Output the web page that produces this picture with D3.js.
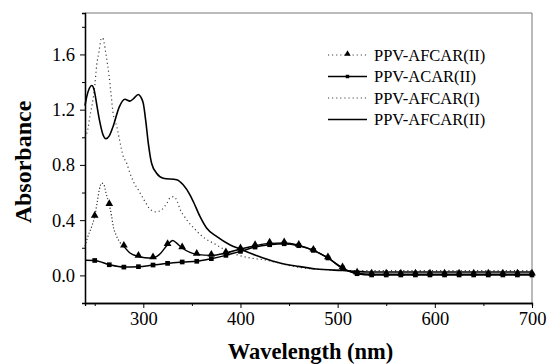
<!DOCTYPE html>
<html>
<head>
<meta charset="utf-8">
<script src="https://cdn.jsdelivr.net/npm/d3@7/dist/d3.min.js"></script>
<style>
  body { margin: 0; background: #fff; }
  text { font-family: "Liberation Serif", "Times New Roman", serif; fill: #000; }
</style>
</head>
<body>
<div id="chart"></div>
<script>
// series: [wavelength (nm), absorbance]
var afcar1 = [[240,1.0],[243,1.06],[245,1.15],[248.6,1.29],[250.3,1.39],[252,1.52],[254.4,1.62],[256.5,1.71],
  [258,1.72],[259.5,1.69],[261.6,1.6],[264.7,1.45],[266.7,1.32],[269,1.17],[272.6,1.08],[275.3,0.99],[279,0.87],
  [283,0.81],[286.3,0.74],[289.7,0.68],[294.8,0.62],[301.7,0.535],[306.8,0.48],[313,0.46],[318.8,0.475],[324,0.52],
  [328,0.565],[331.5,0.57],[335,0.535],[338,0.475],[342,0.43],[346,0.39],[352,0.343],[358,0.3],[364,0.265],
  [372,0.234],[384,0.186],[396,0.15],[410,0.126],[423,0.114],[437,0.094],[451,0.07],[470,0.05],[500,0.038],
  [520,0.035],[600,0.035],[700,0.035]];

var afcar2 = [[240,1.23],[242,1.3],[244.5,1.355],[247,1.375],[249.5,1.34],[252,1.24],[255,1.12],[258,1.03],
  [261.6,0.99],[265,1.01],[269,1.08],[275.3,1.22],[281,1.275],[286.3,1.262],[290,1.28],[294.8,1.31],[297.5,1.29],
  [300,1.245],[302.5,1.12],[305.1,0.96],[308.6,0.81],[313.7,0.74],[320.5,0.704],[334.3,0.692],[341,0.656],
  [348,0.583],[351.4,0.535],[358.3,0.427],[365.1,0.343],[375.4,0.282],[389,0.222],[399.4,0.191],[423.4,0.126],
  [440.5,0.09],[459.3,0.065],[478,0.046],[505,0.035],[530,0.025],[700,0.025]];

var afcar2Tri = [[240,0.21],[242.4,0.27],[246.9,0.354],[250,0.427],[252.7,0.535],[254.7,0.62],[257.2,0.668],
  [259.5,0.656],[261.6,0.596],[265,0.511],[267.4,0.427],[269.1,0.354],[271.9,0.294],[275.3,0.246],[280,0.21],
  [286.3,0.162],[295,0.137],[301.7,0.128],[310,0.126],[316.4,0.15],[325,0.222],[330.2,0.253],[334,0.235],
  [340,0.198],[348,0.166],[355,0.152],[370,0.145],[385,0.162],[400,0.191],[415,0.215],[430,0.232],[445,0.234],
  [460,0.217],[475,0.181],[490,0.126],[505,0.053],[520,0.015],[535,0.008],[550,0.008],[565,0.008],[580,0.008],
  [595,0.008],[610,0.008],[625,0.008],[640,0.008],[655,0.008],[670,0.008],[685,0.008],[700,0.008]];

var acar2Sq = [[240,0.11],[250,0.108],[265,0.077],[280,0.06],[295,0.063],[310,0.075],[325,0.087],[340,0.097],
  [355,0.102],[370,0.121],[385,0.145],[400,0.174],[415,0.205],[430,0.222],[445,0.229],[460,0.215],[475,0.181],
  [490,0.126],[505,0.053],[520,0.012],[535,0.003],[550,0.003],[565,0.003],[580,0.003],[595,0.003],[610,0.003],
  [625,0.003],[640,0.003],[655,0.003],[670,0.003],[685,0.003],[700,0.003]];

var legendNames = ["PPV-AFCAR(II)", "PPV-ACAR(II)", "PPV-AFCAR(I)", "PPV-AFCAR(II)"];
var xTicks = [300, 400, 500, 600, 700];
var yTicks = [0.0, 0.4, 0.8, 1.2, 1.6];

var svgWidth = 549, svgHeight = 364;
var margin = { top: 13, right: 17, bottom: 61, left: 85 };
var width = svgWidth - margin.left - margin.right;
var height = svgHeight - margin.top - margin.bottom;

var svg = d3.select("#chart").append("svg")
  .attr("width", svgWidth)
  .attr("height", svgHeight);

var chartGroup = svg.append("g")
  .attr("transform", `translate(${margin.left}, ${margin.top})`);

var xScale = d3.scaleLinear().domain([240, 700]).range([0, width]);
var yScale = d3.scaleLinear().domain([-0.2, 1.9]).range([height, 0]);

// frame top / right
chartGroup.append("line").attr("x1", 0).attr("x2", width).attr("y1", 0).attr("y2", 0)
  .attr("stroke", "#777").attr("stroke-width", 1);
chartGroup.append("line").attr("x1", width).attr("x2", width).attr("y1", 0).attr("y2", height)
  .attr("stroke", "#777").attr("stroke-width", 1);

// minor ticks
var xMinor = d3.axisBottom(xScale).tickValues([250, 350, 450, 550, 650]).tickSize(3).tickFormat("");
var yMinor = d3.axisLeft(yScale).tickValues([-0.2, 0.2, 0.6, 1.0, 1.4, 1.8]).tickSize(3).tickFormat("");
chartGroup.append("g").attr("transform", `translate(0, ${height})`).call(xMinor);
chartGroup.append("g").call(yMinor);

var xAxis = d3.axisBottom(xScale).tickValues(xTicks).tickSize(5).tickSizeOuter(0).tickPadding(4);
var yAxis = d3.axisLeft(yScale).tickValues(yTicks).tickSize(5).tickSizeOuter(0).tickPadding(5)
  .tickFormat(d3.format(".1f"));

chartGroup.append("g").attr("class", "xAxis").attr("transform", `translate(0, ${height})`).call(xAxis);
chartGroup.append("g").attr("class", "yAxis").call(yAxis);

chartGroup.selectAll(".domain").attr("stroke", "#000").attr("stroke-width", 1.3);
chartGroup.selectAll(".tick line").attr("stroke", "#000").attr("stroke-width", 1);
chartGroup.selectAll(".tick text")
  .style("font-family", "'Liberation Serif', serif")
  .style("font-size", "18.5px");

// axis titles
svg.append("text")
  .attr("x", margin.left + width / 2 + 2)
  .attr("y", 359)
  .attr("text-anchor", "middle")
  .style("font-size", "22.5px")
  .style("font-weight", "bold")
  .text("Wavelength (nm)");

svg.append("text")
  .attr("transform", "rotate(-90)")
  .attr("x", -162)
  .attr("y", 31)
  .attr("text-anchor", "middle")
  .style("font-size", "24px")
  .style("font-weight", "bold")
  .text("Absorbance");

var line = d3.line()
  .x(d => xScale(d[0]))
  .y(d => yScale(d[1]))
  .curve(d3.curveMonotoneX);

var plot = chartGroup.append("g");

// PPV-AFCAR(I) dotted
plot.append("path").datum(afcar1).attr("d", line)
  .attr("fill", "none").attr("stroke", "#333").attr("stroke-width", 1.2)
  .attr("stroke-dasharray", "1.1,3");

// PPV-AFCAR(II) solid
plot.append("path").datum(afcar2).attr("d", line)
  .attr("fill", "none").attr("stroke", "#000").attr("stroke-width", 1.6);

// PPV-ACAR(II) squares
plot.append("path").datum(acar2Sq).attr("d", line)
  .attr("fill", "none").attr("stroke", "#000").attr("stroke-width", 1.5);

// PPV-AFCAR(II) triangles: dotted on the steep peak, dense (solid looking) after
plot.append("path").datum(afcar2Tri.filter(d => d[0] <= 280)).attr("d", line)
  .attr("fill", "none").attr("stroke", "#222").attr("stroke-width", 1.2)
  .attr("stroke-dasharray", "1.1,2.2");
plot.append("path").datum(afcar2Tri.filter(d => d[0] >= 280)).attr("d", line)
  .attr("fill", "none").attr("stroke", "#000").attr("stroke-width", 1.4);

function onGrid(d) { return d[0] >= 250 && (d[0] - 250) % 15 === 0; }

var sqSym = d3.symbol().type(d3.symbolSquare).size(22);
var triSym = d3.symbol().type(d3.symbolTriangle).size(26);

plot.selectAll(".sq").data(acar2Sq.filter(onGrid)).enter()
  .append("path").attr("class", "sq")
  .attr("d", sqSym)
  .attr("transform", d => `translate(${xScale(d[0])}, ${yScale(d[1])})`)
  .attr("fill", "#000");

plot.selectAll(".tri").data(afcar2Tri.filter(onGrid)).enter()
  .append("path").attr("class", "tri")
  .attr("d", triSym)
  .attr("transform", d => `translate(${xScale(d[0])}, ${yScale(d[1]) - 1})`)
  .attr("fill", "#000");

// legend
var legend = svg.append("g").attr("transform", "translate(328, 55)");
var rowGap = 21.5;
legendNames.forEach(function(name, i) {
  var g = legend.append("g").attr("transform", `translate(0, ${i * rowGap})`);
  var ln = g.append("line").attr("x1", 0).attr("x2", 39).attr("y1", 0).attr("y2", 0)
    .attr("stroke", "#000");
  if (i === 0 || i === 2) {
    ln.attr("stroke-dasharray", "1.1,3").attr("stroke-width", 1.2).attr("stroke", "#333");
  } else {
    ln.attr("stroke-width", 1.5);
  }
  if (i === 0) {
    g.append("path").attr("d", d3.symbol().type(d3.symbolTriangle).size(18))
      .attr("transform", "translate(19.5, -1)").attr("fill", "#000");
  }
  if (i === 1) {
    g.append("path").attr("d", d3.symbol().type(d3.symbolSquare).size(12))
      .attr("transform", "translate(19.5, 0)").attr("fill", "#000");
  }
  g.append("text").attr("x", 46).attr("y", 5.5)
    .style("font-size", "16.5px")
    .text(name);
});
</script>
</body>
</html>
